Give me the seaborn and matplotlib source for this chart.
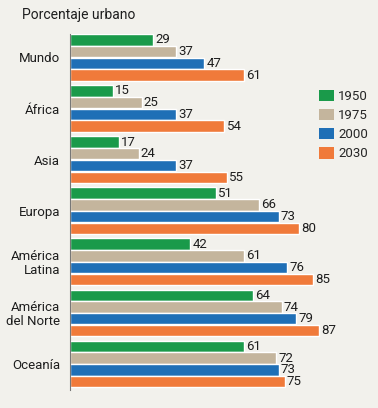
import matplotlib
matplotlib.use("Agg")
import matplotlib.pyplot as plt
import seaborn as sns
import pandas as pd
from matplotlib.patches import Patch

regions = ["Mundo", "África", "Asia", "Europa", "América\nLatina", "América\ndel Norte", "Oceanía"]
years = ["1950", "1975", "2000", "2030"]
v1950 = [29, 15, 17, 51, 42, 64, 61]
v1975 = [37, 25, 24, 66, 61, 74, 72]
v2000 = [47, 37, 37, 73, 76, 79, 73]
v2030 = [61, 54, 55, 80, 85, 87, 75]
colors = ["#1a9a4a", "#c4b59d", "#1f6fb6", "#f07a3a"]

rows = []
for y, vals in zip(years, [v1950, v1975, v2000, v2030]):
    for r, v in zip(regions, vals):
        rows.append({"region": r, "year": y, "value": v})
df = pd.DataFrame(rows)

sns.set_style("white")
plt.rcParams["font.family"] = ["Roboto", "DejaVu Sans"]
bg = "#f2f1ec"
tc = "#1e1e1e"

fig = plt.figure(figsize=(3.78, 4.08), dpi=100, facecolor=bg)
ax = fig.add_axes([70/378, 18/408, 286/378, 356/408])
ax.set_facecolor(bg)

sns.barplot(data=df, y="region", x="value", hue="year", order=regions, hue_order=years,
            palette=colors, width=0.92, gap=0.03, orient="h", ax=ax, legend=False,
            saturation=1)

for c in ax.containers:
    ax.bar_label(c, padding=1.5, fontsize=9.5, color=tc)

ax.set_xlim(0, 100)
ax.set_ylim(6.51, -0.46)
ax.set_xlabel("")
ax.set_ylabel("")
ax.set_xticks([])
for s in ["top", "right", "bottom"]:
    ax.spines[s].set_visible(False)
ax.spines["left"].set_color("#777777")
ax.spines["left"].set_linewidth(0.8)
ax.tick_params(axis="y", length=0, pad=7, labelsize=9.5, labelcolor=tc)
for t in ax.get_yticklabels():
    t.set_horizontalalignment("right")
    t.set_multialignment("right")
    t.set_linespacing(1.05)

fig.text(22/378, 1 - 15/408, "Porcentaje urbano", fontsize=10, color=tc,
         va="center", ha="left")

handles = [Patch(facecolor=c, edgecolor="none") for c in colors]
fig.legend(handles, years, loc="upper left", bbox_to_anchor=(316/378, 1 - 87/408),
           frameon=False, fontsize=9.5, handlelength=1.2, handleheight=0.95,
           handletextpad=0.3, labelspacing=0.45, borderaxespad=0, borderpad=0.2)

fig.savefig("out.png", dpi=100, facecolor=bg)
